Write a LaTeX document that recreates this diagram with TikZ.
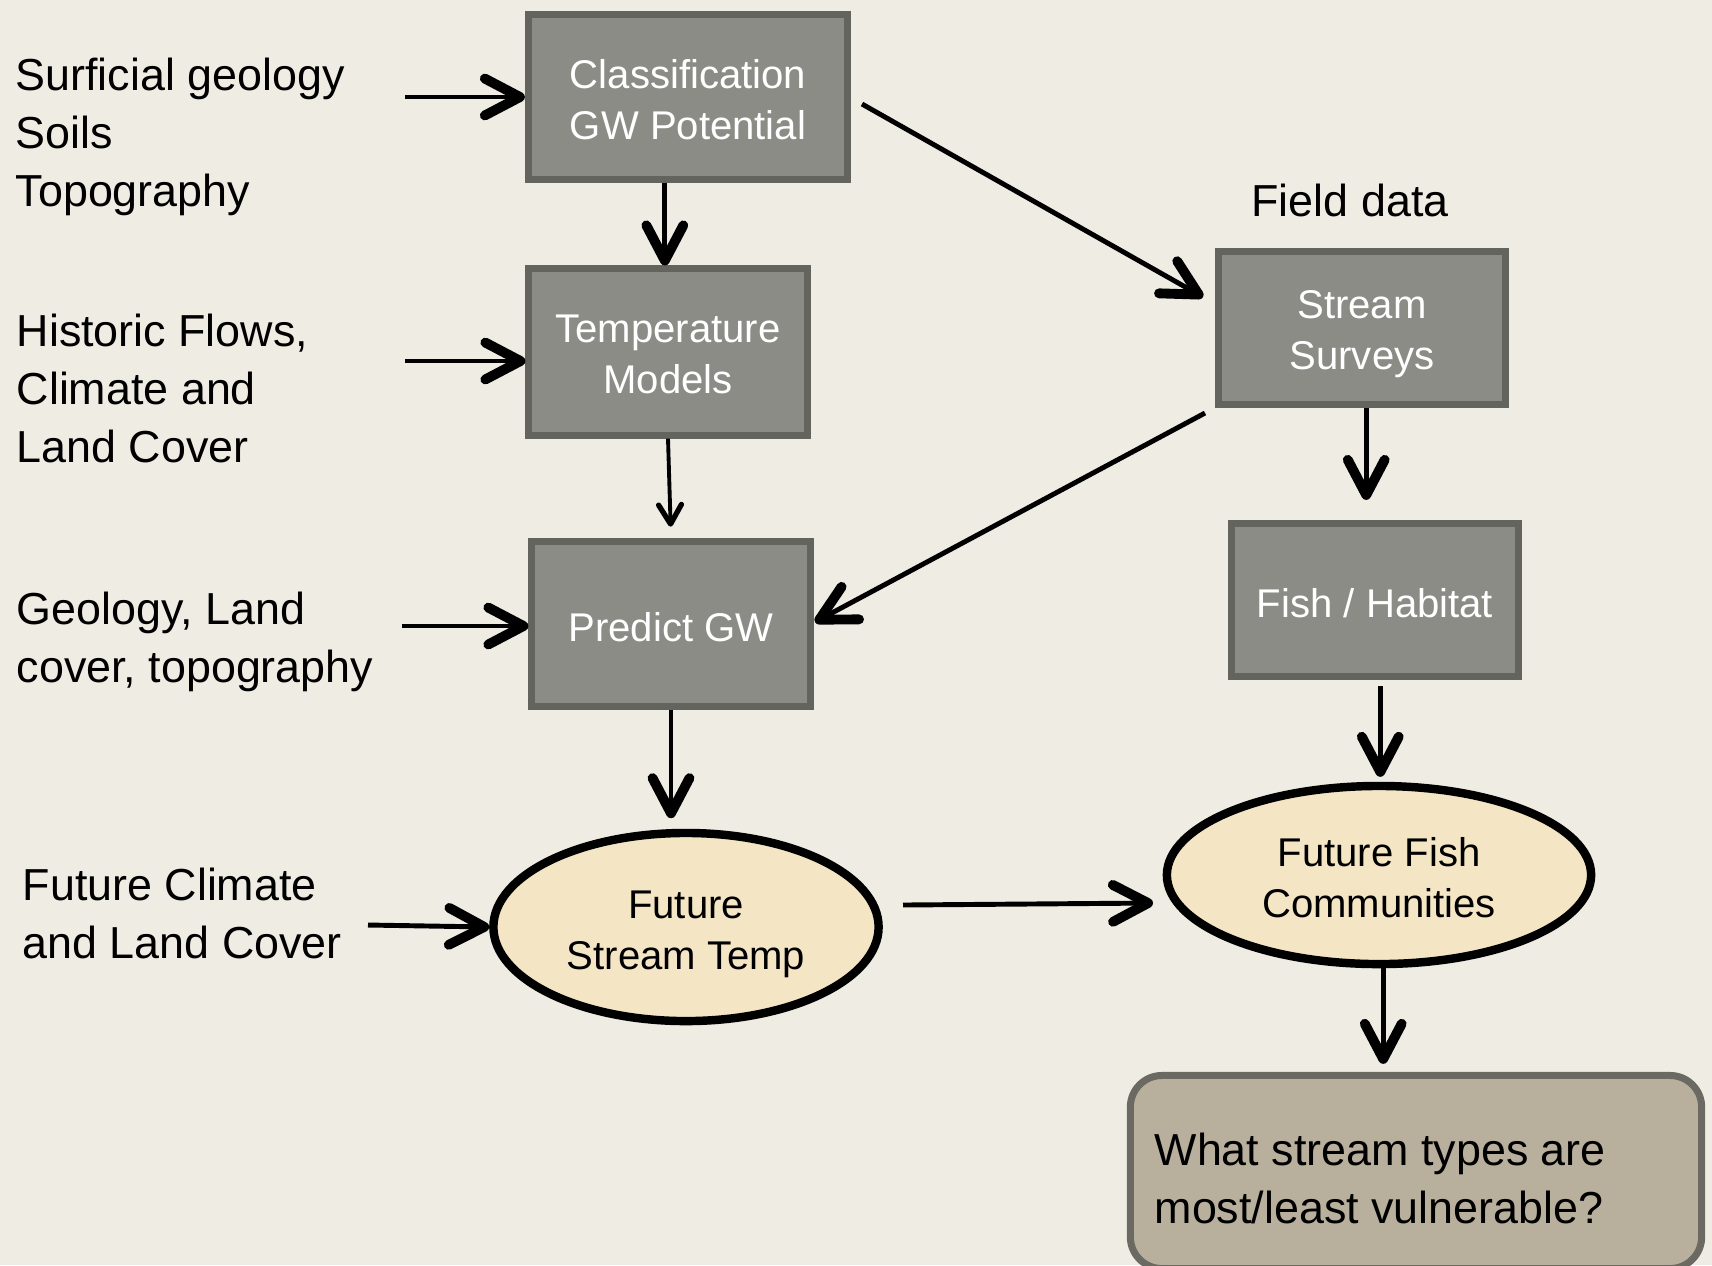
\documentclass[tikz,border=0pt]{standalone}
\usepackage{fontspec}
\setmainfont{Liberation Sans}
\usetikzlibrary{arrows.meta,shapes.geometric}
\definecolor{bg}{HTML}{EFECE4}
\definecolor{boxfill}{HTML}{8B8C85}
\definecolor{boxline}{HTML}{63645E}
\definecolor{ellfill}{HTML}{F4E6C4}
\definecolor{qfill}{HTML}{B8AF9D}
\definecolor{qline}{HTML}{6A6A63}
\tikzset{
  lefttext/.style={anchor=west, align=left, inner sep=0pt, text=black,
    font={\fontsize{12.75pt}{16.5pt}\selectfont}},
  graybox/.style={rectangle, draw=boxline, line width=2pt, fill=boxfill,
    inner sep=0pt},
  boxtext/.style={text=white, align=center, inner sep=0pt,
    font={\fontsize{11.4pt}{14.5pt}\selectfont}},
  elltext/.style={text=black, align=center, inner sep=0pt,
    font={\fontsize{11.4pt}{14.5pt}\selectfont}},
  futell/.style={ellipse, draw=black, line width=2.4pt, fill=ellfill,
    inner sep=0pt},
  qbox/.style={rectangle, rounded corners=9pt, draw=qline, line width=2pt,
    fill=qfill, inner sep=0pt},
  bigarr/.style={line width=1.4pt, draw=black,
    -{Straight Barb[length=10pt,width=10.5pt,line width=2.8pt,round]}},
  smallarr/.style={line width=1.1pt, draw=black,
    -{Straight Barb[length=5.5pt,width=6.5pt,line width=1.5pt,round]}}
}
\begin{document}
\begin{tikzpicture}[x=0.01cm,y=-0.01cm]
\fill[bg] (0,0) rectangle (1712,1265);
\useasboundingbox (0,0) rectangle (1712,1265);

% left texts
\node[lefttext] (t1) at (15,137) {Surficial geology\\Soils\\Topography};
\node[lefttext] (t2) at (16,388) {Historic Flows,\\Climate and\\Land Cover};
\node[lefttext] (t3) at (16,642) {Geology, Land\\cover, topography};
\node[lefttext] (t4) at (22,913) {Future Climate\\and Land Cover};
\node[inner sep=0pt, font={\fontsize{12.75pt}{16.5pt}\selectfont}] (fd) at (1350,200) {Field data};

% boxes
\node[graybox, minimum width=3.19cm, minimum height=1.65cm] (b1) at (688,97) {};
\node[boxtext] (b1t) at (688,100) {Classification\\GW Potential};
\node[graybox, minimum width=2.78cm, minimum height=1.66cm] (b2) at (668,352) {};
\node[boxtext] (b2t) at (668,354) {Temperature\\Models};
\node[graybox, minimum width=2.78cm, minimum height=1.65cm] (b3) at (671,624) {};
\node[boxtext] (b3t) at (671,627) {Predict GW};
\node[graybox, minimum width=2.87cm, minimum height=1.52cm] (b4) at (1362,328) {};
\node[boxtext] (b4t) at (1362,334) {Stream\\Surveys};
\node[graybox, minimum width=2.87cm, minimum height=1.53cm] (b5) at (1375,600) {};
\node[boxtext] (b5t) at (1375,603) {Fish / Habitat};

% ellipses
\node[futell, minimum width=3.85cm, minimum height=1.88cm] (e1) at (686,927) {};
\node[elltext] (e1t) at (686,934) {Future\\Stream Temp};
\node[futell, minimum width=4.24cm, minimum height=1.78cm] (e2) at (1379,875) {};
\node[elltext] (e2t) at (1379,878) {Future Fish\\Communities};

% question box
\node[qbox, minimum width=5.71cm, minimum height=1.93cm] (q) at (1416,1172) {};
\node[lefttext] (qt) at (1154,1178) {What stream types are\\most/least vulnerable?};

% free ends
\coordinate (s1) at (405,97);
\coordinate (s2) at (405,361);
\coordinate (s3) at (402,626);
\coordinate (s4) at (368,925);
\coordinate (a8s) at (862,104);
\coordinate (a8e) at (1203,297);
\coordinate (a9s) at (1205,413);
\coordinate (a9e) at (815,622);
\coordinate (a12s) at (903,905);
\coordinate (a12e) at (1153,903);

% connectors
\draw[bigarr] (s1) -- (b1.west);
\draw[bigarr] (s2) -- (s2 -| b2.west);
\draw[bigarr] (s3) -- (s3 -| b3.west);
\draw[bigarr] (s4) -- (e1.west);
\draw[bigarr] ([xshift=-0.9pt]b2.north |- b1.south) -- ([xshift=-0.9pt]b2.north);
\draw[smallarr, shorten >=3.2pt] (b2.south) -- (b3.north);
\draw[bigarr, shorten >=3pt] (b3.south) -- (b3.south |- e1.north);
\draw[bigarr] (a8s) -- (a8e);
\draw[bigarr] (a9s) -- (a9e);
\draw[bigarr] (a12s) -- (a12e);
\draw[bigarr, shorten >=5.7pt] ([xshift=1.2pt]b4.south) -- ([xshift=1.2pt]b4.south |- b5.north);
\draw[bigarr, shorten <=1.7pt, shorten >=1.4pt] ([xshift=1.5pt]b5.south) -- ([xshift=1.5pt]b5.south |- e2.north);
\draw[bigarr, shorten >=2.3pt] ([xshift=1.2pt]e2.south) -- ([xshift=1.2pt]e2.south |- q.north);
\end{tikzpicture}
\end{document}
